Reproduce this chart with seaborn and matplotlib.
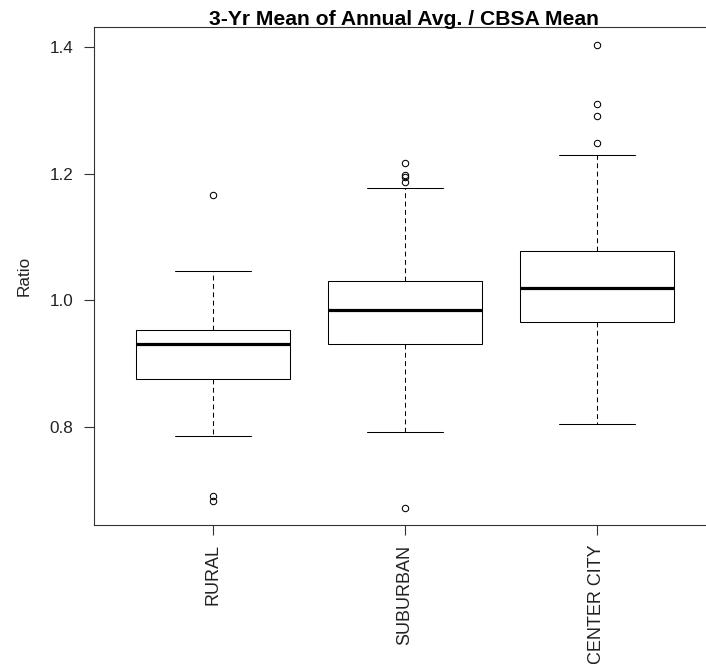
import matplotlib
matplotlib.use("Agg")
import matplotlib.pyplot as plt
import numpy as np
import pandas as pd
import seaborn as sns

# ---- data ----
categories = ["RURAL", "SUBURBAN", "CENTER CITY"]
q1 = [0.8753, 0.9316, 0.9655]
median = [0.9316, 0.9842, 1.0195]
q3 = [0.9530, 1.0311, 1.0785]
whisker_lo = [0.7860, 0.7920, 0.8052]
whisker_hi = [1.0460, 1.1774, 1.2295]
outliers_lo = [[0.6826, 0.6905], [0.6727], []]
outliers_hi = [[1.1660],
               [1.1863, 1.1947, 1.1979, 1.2174],
               [1.2490, 1.2905, 1.3095, 1.4026]]
yticks = [0.8, 1.0, 1.2, 1.4]
title = "3-Yr Mean of Annual Avg. / CBSA Mean"
ylabel = "Ratio"

# build samples that reproduce the five-number summaries exactly
rows = []
for i, cat in enumerate(categories):
    low = sorted(outliers_lo[i]) + [whisker_lo[i]]
    high = [whisker_hi[i]] + sorted(outliers_hi[i])
    k = max(len(low), len(high))
    low = low + [whisker_lo[i]] * (k - len(low))
    high = [whisker_hi[i]] * (k - len(high)) + high
    vals = low + [q1[i]] * k + [median[i]] + [q3[i]] * k + high
    for v in vals:
        rows.append({"category": cat, "ratio": v})
df = pd.DataFrame(rows)

sns.set_style("white")
plt.rcParams["font.family"] = ["Liberation Sans", "DejaVu Sans"]
plt.rcParams["lines.scale_dashes"] = False

W, H = 706, 664
fig = plt.figure(figsize=(W / 100, H / 100), dpi=100)
left, right, top, bottom = 94, 716, 27, 525
ax = fig.add_axes([left / W, 1 - bottom / H, (right - left) / W, (bottom - top) / H])

sns.boxplot(
    data=df, x="category", y="ratio", order=categories,
    color="white", linecolor="black", saturation=1, width=0.8,
    linewidth=0.75, fliersize=4.6, ax=ax,
    flierprops=dict(marker="o", markerfacecolor="none",
                    markeredgecolor="black", markeredgewidth=0.75),
    whiskerprops=dict(linestyle=(0, (3.5, 2.5))),
    medianprops=dict(linewidth=2.3, color="black"),
)

ax.set_xlim(-0.62, 2.62)
ax.set_ylim(0.6455, 1.4316)
ax.set_yticks(yticks)
ax.set_yticklabels([f"{t:.1f}" for t in yticks])
ax.set_xticks(range(len(categories)))
ax.set_xticklabels(categories, rotation=90, ha="center", va="top")
ax.set_xlabel("")
ax.set_ylabel(ylabel, fontsize=12.3, color="#222222")
ax.yaxis.set_label_coords(-0.101, 0.5)

for name, s in ax.spines.items():
    s.set_visible(name != "right")
    s.set_color("#333333")
    s.set_linewidth(0.8)

ax.tick_params(axis="both", which="both", direction="out", length=7.2,
               width=0.8, color="#333333", labelsize=12.3, pad=7.5,
               labelcolor="#222222", bottom=True, left=True)
ax.tick_params(axis="x", labelsize=13, pad=6.8)

fig.text(404 / W, 1 - 25 / H, title, ha="center", va="baseline",
         fontsize=15.2, fontweight="bold", color="black")

fig.savefig("out.png", dpi=100)
